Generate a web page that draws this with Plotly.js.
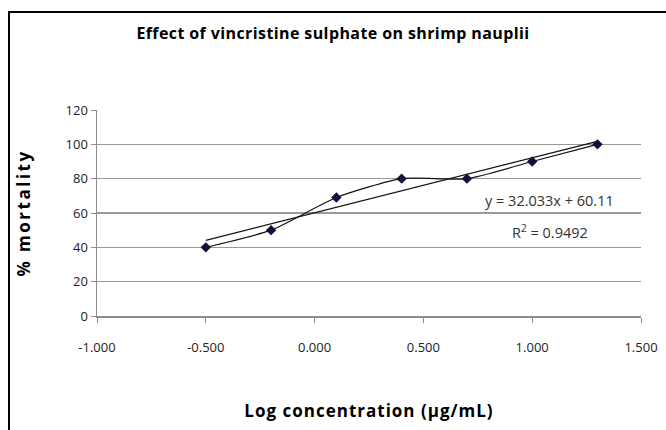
<!DOCTYPE html>
<html>
<head>
<meta charset="utf-8">
<script src="https://cdn.plot.ly/plotly-3.0.1.min.js"></script>
<style>
  html, body { margin: 0; padding: 0; background: #fff; }
  #wrap { position: relative; width: 666px; height: 430px; overflow: hidden; }
  #chart { position: absolute; left: 0; top: 0; width: 666px; height: 430px; }
  #frameTop { position: absolute; left: 8px; top: 11px; width: 660px; height: 2px; background: #000; }
  #frameLeft { position: absolute; left: 8px; top: 11px; width: 2px; height: 420px; background: #000; }
  .gtitle { letter-spacing: 0.4px; }
  .ytitle { letter-spacing: 2.5px; }
  .xtitle { letter-spacing: 1px; }
</style>
</head>
<body>
<div id="wrap">
  <div id="chart"></div>
  <div id="frameTop"></div>
  <div id="frameLeft"></div>
</div>
<script>
// Data
var logConc = [-0.5, -0.2, 0.1, 0.4, 0.7, 1.0, 1.3];
var mortality = [40, 50, 69, 80, 80, 90, 100];
var xTickVals = [-1.0, -0.5, 0.0, 0.5, 1.0, 1.5];
var xTickText = ["-1.000", "-0.500", "0.000", "0.500", "1.000", "1.500"];
var yTickVals = [0, 20, 40, 60, 80, 100, 120];
var trendSlope = 32.033;
var trendIntercept = 60.11;
var rSquared = 0.9492;

var xMin = Math.min.apply(null, logConc);
var xMax = Math.max.apply(null, logConc);
var trendX = [xMin, xMax];
var trendY = trendX.map(function (x) { return trendSlope * x + trendIntercept; });

var font = "'Open Sans', 'DejaVu Sans', sans-serif";

var traces = [
  {
    x: trendX, y: trendY, type: 'scatter', mode: 'lines',
    line: { color: '#111', width: 1.2 }, hoverinfo: 'skip', showlegend: false
  },
  {
    x: logConc, y: mortality, type: 'scatter', mode: 'lines+markers',
    line: { color: '#111', width: 1.2, shape: 'spline', smoothing: 0.6 },
    marker: { symbol: 'diamond', size: 8, color: '#10103a' },
    showlegend: false
  }
];

var layout = {
  width: 666, height: 430,
  margin: { l: 97, r: 25, t: 110, b: 114 },
  paper_bgcolor: '#fff', plot_bgcolor: '#fff',
  showlegend: false,
  title: {
    text: 'Effect of vincristine sulphate on shrimp nauplii',
    font: { family: font, size: 16, color: '#000', weight: 'bold' },
    x: 0.5, xanchor: 'center', y: 1 - 33 / 430, yanchor: 'middle', yref: 'container'
  },
  xaxis: {
    range: [-1.0, 1.5], tickvals: xTickVals, ticktext: xTickText,
    showgrid: false, zeroline: false,
    showline: true, linecolor: '#8c8c8c', linewidth: 1.5,
    ticks: 'outside', ticklen: 5, tickcolor: '#8c8c8c', tickwidth: 1,
    ticklabelstandoff: 14,
    tickfont: { family: font, size: 13, color: '#222' },
    title: {
      text: 'Log concentration (μg/mL)', standoff: 50,
      font: { family: font, size: 17, color: '#000', weight: 'bold' }
    }
  },
  yaxis: {
    range: [0, 120], tickvals: yTickVals,
    showgrid: true, gridcolor: '#9a9a9a', gridwidth: 1.5,
    zeroline: false,
    showline: true, linecolor: '#8c8c8c', linewidth: 1.5,
    ticks: 'outside', ticklen: 5, tickcolor: '#8c8c8c', tickwidth: 1,
    tickfont: { family: font, size: 13, color: '#222' },
    title: {
      text: '% mortality', standoff: 30,
      font: { family: font, size: 17, color: '#000', weight: 'bold' }
    }
  },
  annotations: [
    {
      x: 1.08, y: 67.5, xref: 'x', yref: 'y', showarrow: false,
      text: 'y = ' + trendSlope.toFixed(3) + 'x + ' + trendIntercept.toFixed(2),
      font: { family: font, size: 14.5, color: '#333' }
    },
    {
      x: 1.08, y: 49.5, xref: 'x', yref: 'y', showarrow: false,
      text: 'R<sup>2</sup> = ' + rSquared.toFixed(4),
      font: { family: font, size: 14.5, color: '#333' }
    }
  ]
};

Plotly.newPlot('chart', traces, layout, { displayModeBar: false, staticPlot: true });
</script>
</body>
</html>
